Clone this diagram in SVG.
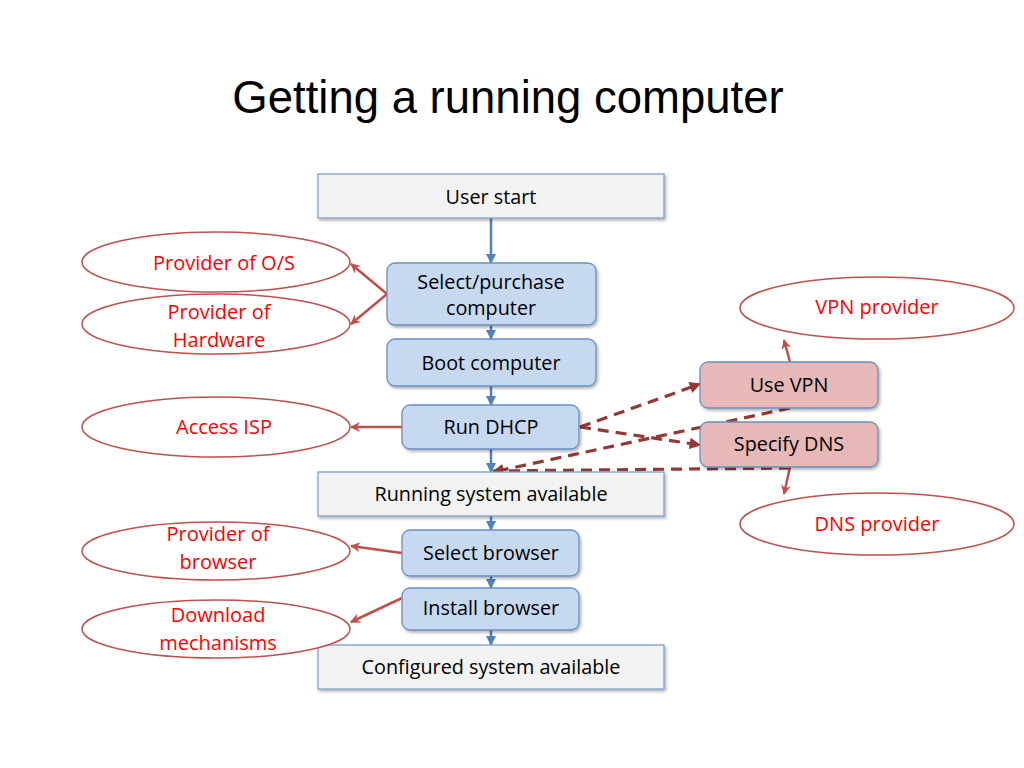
<svg xmlns="http://www.w3.org/2000/svg" width="1024" height="768" viewBox="0 0 1024 768">
<defs>
<marker id="blueArrow" viewBox="0 0 10 10" refX="9" refY="5" markerWidth="4" markerHeight="4" orient="auto" markerUnits="strokeWidth">
<path d="M0,0 L10,5 L0,10 z" fill="#4f81bd"/>
</marker>
<marker id="redArrow" viewBox="0 0 10 10" refX="9" refY="5" markerWidth="4" markerHeight="4" orient="auto" markerUnits="strokeWidth">
<path d="M0,0 L10,5 L0,10 L3,5 z" fill="#c0504d"/>
</marker>
<marker id="darkArrow" viewBox="0 0 10 10" refX="9" refY="5" markerWidth="3.6" markerHeight="3.6" orient="auto" markerUnits="strokeWidth">
<path d="M0,0 L10,5 L0,10 z" fill="#953735"/>
</marker>
<filter id="shadow" x="-10%" y="-10%" width="130%" height="140%">
<feDropShadow dx="1.5" dy="2" stdDeviation="1.5" flood-color="#000" flood-opacity="0.3"/>
</filter>
</defs>
<style>
.title { font-family: "Liberation Sans", Arial, sans-serif; font-size: 45.5px; fill: #000; }
.lbl { font-family: "Open Sans", "Liberation Sans", sans-serif; font-size: 19.8px; fill: #000; text-anchor: middle; }
.rlbl { font-family: "Open Sans", "Liberation Sans", sans-serif; font-size: 20px; fill: #ff0000; text-anchor: middle; }
.box { fill: #f2f2f2; stroke: #7f9fc7; stroke-width: 1.3; filter: url(#shadow); }
.step { fill: #c6d9f1; stroke: #6a8fc0; stroke-width: 1.3; filter: url(#shadow); }
.pink { fill: #e6b9b8; stroke: #6a8fc0; stroke-width: 1.3; filter: url(#shadow); }
.ell { fill: #fff; stroke: #c0504d; stroke-width: 1.5; }
.blue { stroke: #4f81bd; stroke-width: 2.5; fill: none; marker-end: url(#blueArrow); }
.red { stroke: #c0504d; stroke-width: 2.5; fill: none; marker-end: url(#redArrow); }
.dash { stroke: #953735; stroke-width: 3.2; fill: none; stroke-dasharray: 11 7; marker-end: url(#darkArrow); }
</style>
<rect width="1024" height="768" fill="#fff"/>
<text class="title" x="508" y="113" text-anchor="middle">Getting a running computer</text>

<g id="connectors">
<line class="blue" x1="491" y1="218" x2="491" y2="263"/>
<line class="blue" x1="491" y1="325" x2="491" y2="339"/>
<line class="blue" x1="491" y1="386" x2="491" y2="405"/>
<line class="blue" x1="491" y1="449" x2="491" y2="472"/>
<line class="blue" x1="491" y1="516" x2="491" y2="530"/>
<line class="blue" x1="491" y1="576" x2="491" y2="588"/>
<line class="blue" x1="491" y1="630" x2="491" y2="645"/>
<line class="red" x1="387" y1="294" x2="351" y2="264"/>
<line class="red" x1="387" y1="294" x2="351" y2="324"/>
<line class="red" x1="402" y1="427" x2="351" y2="427"/>
<line class="red" x1="402" y1="553" x2="351" y2="546"/>
<line class="red" x1="402" y1="598" x2="351" y2="622"/>
<line class="red" x1="790" y1="362" x2="784" y2="340"/>
<line class="red" x1="790" y1="467" x2="784" y2="494"/>
<line class="dash" x1="580" y1="427" x2="700" y2="384"/>
<line class="dash" x1="580" y1="427" x2="700" y2="445"/>
<line class="dash" x1="790" y1="408" x2="493" y2="472"/>
<line class="dash" x1="790" y1="468" x2="493" y2="471"/>
</g>

<g id="user-start">
<rect class="box" x="318" y="174" width="346" height="44"/>
<text class="lbl" x="491" y="204">User start</text>
</g>
<g id="select-purchase">
<rect class="step" x="387" y="263" width="209" height="62" rx="8"/>
<text class="lbl" x="491" y="289">Select/purchase</text>
<text class="lbl" x="491" y="315">computer</text>
</g>
<g id="boot">
<rect class="step" x="387" y="339" width="209" height="47" rx="8"/>
<text class="lbl" x="491" y="370">Boot computer</text>
</g>
<g id="dhcp">
<rect class="step" x="402" y="405" width="177" height="44" rx="8"/>
<text class="lbl" x="491" y="434">Run DHCP</text>
</g>
<g id="running">
<rect class="box" x="318" y="472" width="346" height="44"/>
<text class="lbl" x="491" y="501">Running system available</text>
</g>
<g id="select-browser">
<rect class="step" x="402" y="530" width="177" height="46" rx="8"/>
<text class="lbl" x="491" y="560">Select browser</text>
</g>
<g id="install-browser">
<rect class="step" x="402" y="588" width="177" height="42" rx="8"/>
<text class="lbl" x="491" y="615">Install browser</text>
</g>
<g id="configured">
<rect class="box" x="318" y="645" width="346" height="44"/>
<text class="lbl" x="491" y="674">Configured system available</text>
</g>
<g id="use-vpn">
<rect class="pink" x="700" y="362" width="178" height="46" rx="8"/>
<text class="lbl" x="789" y="392">Use VPN</text>
</g>
<g id="specify-dns">
<rect class="pink" x="700" y="422" width="178" height="45" rx="8"/>
<text class="lbl" x="789" y="451">Specify DNS</text>
</g>

<g id="provider-os">
<ellipse class="ell" cx="216" cy="262" rx="134" ry="30"/>
<text class="rlbl" x="224" y="270">Provider of O/S</text>
</g>
<g id="provider-hw">
<ellipse class="ell" cx="216" cy="324" rx="134" ry="30"/>
<text class="rlbl" x="219" y="319">Provider of</text>
<text class="rlbl" x="219" y="347">Hardware</text>
</g>
<g id="access-isp">
<ellipse class="ell" cx="216" cy="427" rx="134" ry="30"/>
<text class="rlbl" x="224" y="434">Access ISP</text>
</g>
<g id="provider-browser">
<ellipse class="ell" cx="216" cy="551" rx="134" ry="29"/>
<text class="rlbl" x="218" y="541">Provider of</text>
<text class="rlbl" x="218" y="569">browser</text>
</g>
<g id="download">
<ellipse class="ell" cx="216" cy="629" rx="134" ry="29"/>
<text class="rlbl" x="218" y="622">Download</text>
<text class="rlbl" x="218" y="650">mechanisms</text>
</g>
<g id="vpn-provider">
<ellipse class="ell" cx="877" cy="308" rx="137" ry="31"/>
<text class="rlbl" x="877" y="314">VPN provider</text>
</g>
<g id="dns-provider">
<ellipse class="ell" cx="877" cy="524" rx="137" ry="31"/>
<text class="rlbl" x="877" y="531">DNS provider</text>
</g>
</svg>
